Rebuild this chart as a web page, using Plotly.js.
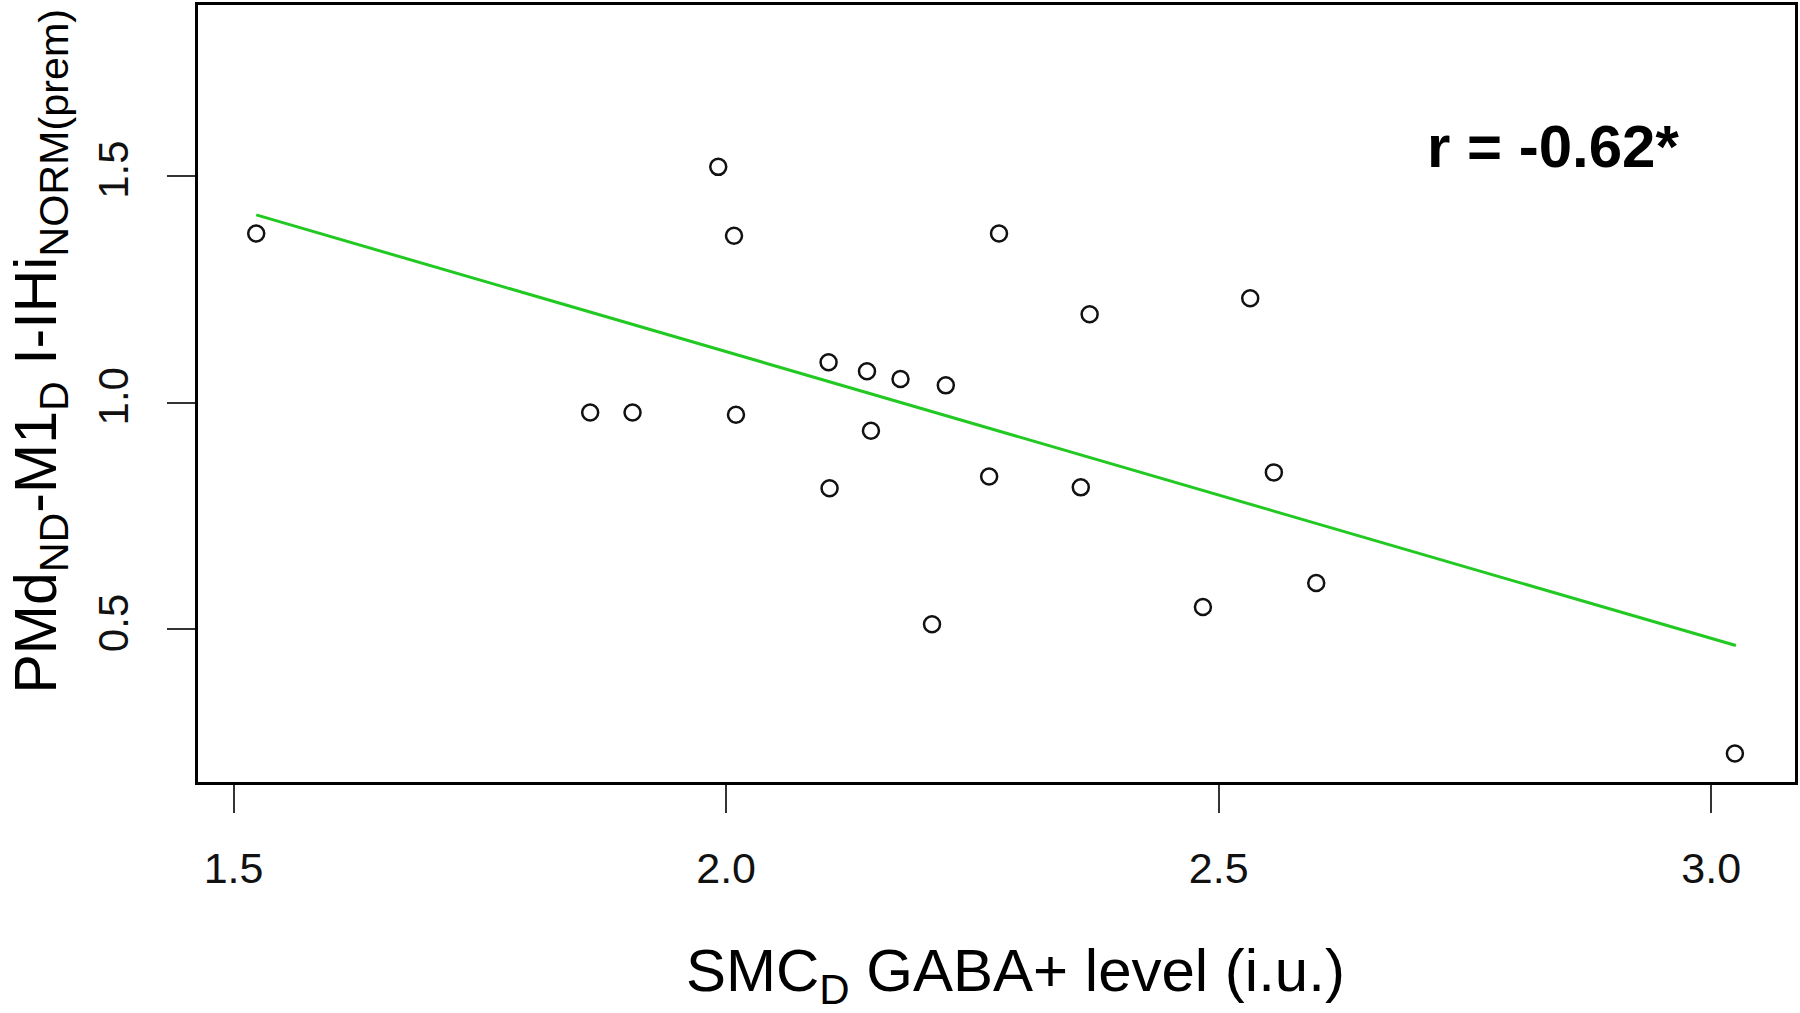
<!DOCTYPE html>
<html>
<head>
<meta charset="utf-8">
<script src="https://cdn.plot.ly/plotly-3.0.1.min.js"></script>
<style>html,body{margin:0;padding:0;background:#fff;}</style>
</head>
<body>
<div id="chart" style="width:1800px;height:1013px;"></div>
<script>
// SMC_D GABA+ level (i.u.)
const gabaLevel = [1.523, 1.992, 2.008, 1.862, 1.905, 2.010, 2.104, 2.143, 2.177, 2.223, 2.147,
                   2.105, 2.267, 2.277, 2.369, 2.360, 2.209, 2.532, 2.556, 2.484, 2.599, 3.024];
// PMd_ND-M1_D I-IHi NORM(prem)
const iihiNorm  = [1.373, 1.520, 1.368, 0.978, 0.978, 0.973, 1.089, 1.069, 1.052, 1.038, 0.938,
                   0.811, 0.837, 1.373, 1.195, 0.813, 0.511, 1.230, 0.846, 0.549, 0.602, 0.226];
// regression line
const fitX = [1.523, 3.025];
const fitY = [1.414, 0.464];
const xTickVals = [1.5, 2.0, 2.5, 3.0];
const xTickText = ['1.5', '2.0', '2.5', '3.0'];
const yTickVals = [0.5, 1.0, 1.5];
const yTickText = ['0.5', '1.0', '1.5'];
const corrLabel = 'r = -0.62*';

const FONT = 'Liberation Sans, Arial, Helvetica, sans-serif';

const traces = [
  {
    x: fitX, y: fitY, type: 'scatter', mode: 'lines',
    line: {color: '#22c922', width: 3},
    hoverinfo: 'skip', showlegend: false
  },
  {
    x: gabaLevel, y: iihiNorm, type: 'scatter', mode: 'markers',
    marker: {symbol: 'circle-open', size: 16, color: '#111', line: {width: 2.5, color: '#111'}},
    showlegend: false
  }
];

const axisCommon = {
  showgrid: false, zeroline: false,
  showline: true, mirror: true, linecolor: '#000', linewidth: 3,
  ticks: 'outside', ticklen: 28, tickwidth: 2, tickcolor: '#333',
  tickmode: 'array'
};

const layout = {
  width: 1800, height: 1013,
  margin: {l: 198, r: 5, t: 5, b: 231, pad: 0},
  paper_bgcolor: '#fff', plot_bgcolor: '#fff',
  font: {family: FONT, color: '#111'},
  xaxis: Object.assign({}, axisCommon, {
    range: [1.4639, 3.085],
    tickvals: xTickVals, ticktext: xTickText,
    tickfont: {family: FONT, size: 43, color: '#111'},
    ticklabelstandoff: 18
  }),
  yaxis: Object.assign({}, axisCommon, {
    range: [0.163, 1.877],
    tickvals: yTickVals, ticktext: yTickText,
    tickangle: -90,
    tickfont: {family: FONT, size: 42, color: '#111'},
    ticklabelstandoff: 22
  }),
  annotations: [
    {
      text: corrLabel, xref: 'paper', yref: 'paper',
      x: 0.8485, y: 0.8185, xanchor: 'center', yanchor: 'middle',
      showarrow: false,
      font: {family: FONT, size: 60, color: '#000', weight: 'bold'}
    },
    {
      text: 'SMC<sub>D</sub> GABA+ level (i.u.)', xref: 'paper', yref: 'paper',
      x: 0.5122, y: -0.249, xanchor: 'center', yanchor: 'middle',
      showarrow: false,
      font: {family: FONT, size: 60, color: '#000'}
    },
    {
      text: 'PMd<sub>ND</sub>-M1<sub>D</sub> I-IHi<sub>NORM(prem)</sub>', xref: 'paper', yref: 'paper',
      x: -0.1235, y: 0.5549, xanchor: 'left', yanchor: 'middle', textangle: -90,
      showarrow: false,
      font: {family: FONT, size: 59, color: '#000'}
    }
  ]
};

Plotly.newPlot('chart', traces, layout, {staticPlot: true, displayModeBar: false});
</script>
</body>
</html>
